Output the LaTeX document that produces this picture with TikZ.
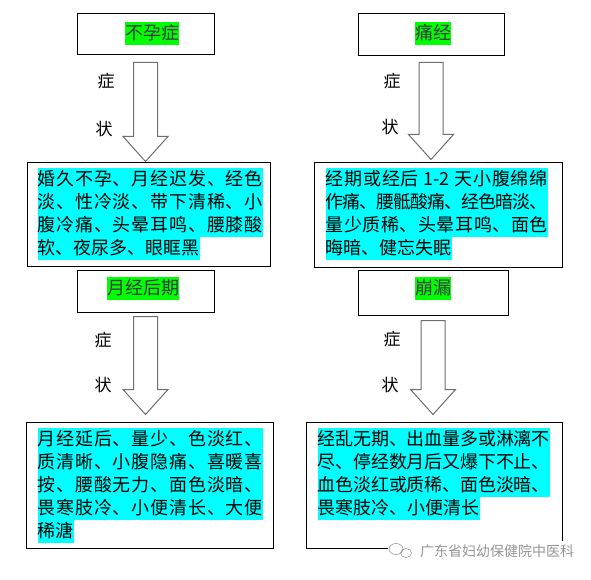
\documentclass[tikz,border=0pt]{standalone}
\usepackage{fontspec}
\setmainfont{Noto Sans CJK SC}
\usepackage{tikz}
\usetikzlibrary{calc}
\definecolor{hlcyan}{RGB}{0,255,255}
\definecolor{hlgreen}{RGB}{0,255,0}
\definecolor{arrowgray}{RGB}{110,110,110}
\definecolor{titlegray}{RGB}{60,55,75}
\definecolor{markgray}{RGB}{150,150,150}

% highlighted run of text, one line high
\newcommand\hl[2]{{\fboxsep=0pt\colorbox{#1}{\rule[-5.5pt]{0pt}{23pt}#2}}}
% put stretchable glue between the characters of a line
\def\spreadfirst#1{#1\spreadnext}
\def\spreadnext#1{\def\spreadarg{#1}\ifx\spreadarg\spreadendmark\else\hskip 0pt plus 1fill minus 2pt\relax #1\expandafter\spreadnext\fi}
\def\spreadendmark{\spreadend}
\newcommand\spreadline[1]{\spreadfirst#1\spreadend}
\newcommand\fullline[2]{\hl{hlcyan}{\makebox[#1][s]{\spreadline{#2}}}}
\newcommand\lastline[1]{\hl{hlcyan}{\spreadline{#1}}}

\begin{document}
\begin{tikzpicture}[x=1pt, y=-1pt,
    titlebox/.style={draw, line width=1pt, inner sep=0pt},
    bodybox/.style={draw, line width=1pt, inner sep=0pt},
    titletext/.style={inner sep=0pt, text=titlegray, font=\fontsize{18pt}{23pt}\selectfont},
    bodytext/.style={inner sep=0pt, anchor=north west, align=left, font=\fontsize{18pt}{23pt}\selectfont},
    sidetext/.style={inner sep=0pt, font=\fontsize{17pt}{17pt}\selectfont},
    blockarrow/.style={draw=arrowgray, line width=1pt, fill=white, line join=miter}]
    \useasboundingbox (0,0) rectangle (591,580);

    % titles
    \node[titlebox, minimum width=137pt, minimum height=41pt] (t1) at (145.5,34.5) {};
    \node[titlebox, minimum width=146pt, minimum height=42pt] (t2) at (431,35) {};
    \node[titlebox, minimum width=137pt, minimum height=42pt] (t3) at (145.5,291) {};
    \node[titlebox, minimum width=150pt, minimum height=45pt] (t4) at (433,292.5) {};
    \node[titletext] (t1txt) at (152,34) {\hl{hlgreen}{不孕症}};
    \node[titletext] (t2txt) at (433,34) {\hl{hlgreen}{痛经}};
    \node[titletext] (t3txt) at (143,288) {\hl{hlgreen}{月经后期}};
    \node[titletext] (t4txt) at (433,288) {\hl{hlgreen}{崩漏}};

    % symptom boxes
    \node[bodybox, minimum width=243pt, minimum height=103pt] (b1) at (148.5,214.5) {};
    \node[bodybox, minimum width=248pt, minimum height=104pt] (b2) at (438,215) {};
    \node[bodybox, minimum width=247pt, minimum height=126pt] (b3) at (149.5,485) {};
    \node[bodybox, minimum width=256pt, minimum height=126pt] (b4) at (434,485) {};

    \node[bodytext] (b1txt) at ([shift={(11,5)}]b1.north west) {%
        \fullline{225pt}{婚久不孕、月经迟发、经色}\\
        \fullline{225pt}{淡、性冷淡、带下清稀、小}\\
        \fullline{225pt}{腹冷痛、头晕耳鸣、腰膝酸}\\
        \lastline{软、夜尿多、眼眶黑}};
    \node[bodytext] (b2txt) at ([shift={(12,5)}]b2.north west) {%
        \fullline{222pt}{经期或经后{ 1-2 }天小腹绵绵}\\
        \fullline{222pt}{作痛、腰骶酸痛、经色暗淡、}\\
        \fullline{222pt}{量少质稀、头晕耳鸣、面色}\\
        \lastline{晦暗、健忘失眠}};
    \node[bodytext] (b3txt) at ([shift={(12,6)}]b3.north west) {%
        \fullline{225pt}{月经延后、量少、色淡红、}\\
        \fullline{225pt}{质清晰、小腹隐痛、喜暖喜}\\
        \fullline{225pt}{按、腰酸无力、面色淡暗、}\\
        \fullline{225pt}{畏寒肢冷、小便清长、大便}\\
        \lastline{稀溏}};
    \node[bodytext] (b4txt) at ([shift={(12,6)}]b4.north west) {%
        \fullline{232pt}{经乱无期、出血量多或淋漓不}\\
        \fullline{232pt}{尽、停经数月后又爆下不止、}\\
        \fullline{232pt}{血色淡红或质稀、面色淡暗、}\\
        \lastline{畏寒肢冷、小便清长}};

    % block arrows
    \foreach \t/\b/\ga/\gb in {t1/b1/7/1, t2/b2/6/3, t3/b3/4/7, t4/b4/5/7}
        \draw[blockarrow] let \p1=(\t.south), \p2=(\b.north) in
            (\x1-12pt,\y1-\ga*1pt) -- (\x1+12pt,\y1-\ga*1pt)
            -- (\x1+12pt,\y2+\gb*1pt+25pt) -- (\x1+22.5pt,\y2+\gb*1pt+25pt)
            -- (\x1,\y2+\gb*1pt) -- (\x1-22.5pt,\y2+\gb*1pt+25pt)
            -- (\x1-12pt,\y2+\gb*1pt+25pt) -- cycle;

    \node[sidetext] (s1) at (106,81) {症};
    \node[sidetext] (z1) at (104,129) {状};
    \node[sidetext] (s2) at (392,81) {症};
    \node[sidetext] (z2) at (390,127) {状};
    \node[sidetext] (s3) at (103,340) {症};
    \node[sidetext] (z3) at (103,385) {状};
    \node[sidetext] (s4) at (392,339) {症};
    \node[sidetext] (z4) at (390,385) {状};

    % watermark
    \fill[white] (388,541) rectangle (577,561);
    \draw[markgray, line width=0.6pt] (396,549) ellipse [x radius=7, y radius=5.5];
    \draw[markgray, line width=0.6pt] (406,553) ellipse [x radius=5.5, y radius=4.5];
    \node[inner sep=0pt, text=markgray, font=\fontsize{14pt}{14pt}\selectfont] (mark) at (497,551) {广东省妇幼保健院中医科};
\end{tikzpicture}
\end{document}
